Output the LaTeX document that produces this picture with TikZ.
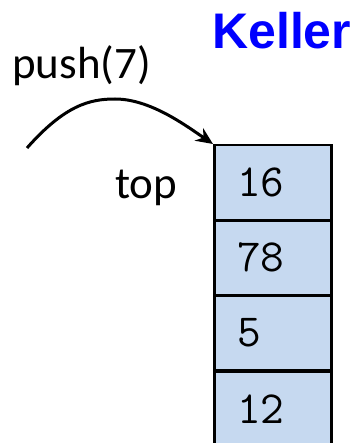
\documentclass[tikz,border=0pt]{standalone}
\usepackage{fontspec}
\setmainfont{Carlito}
\newfontfamily\kellerfont{Liberation Sans}
\usetikzlibrary{arrows.meta}
\definecolor{cellblue}{HTML}{C6D9F0}
\definecolor{titleblue}{HTML}{0000FF}
\tikzset{
  cell/.style={draw=black, line width=2.5pt, fill=cellblue, anchor=north west,
    text width=71pt, inner xsep=23pt, inner ysep=0pt, minimum height=75pt, align=left,
    font=\ttfamily\fontsize{46}{46}\selectfont},
  lbl/.style={inner sep=0pt, anchor=base west, font=\fontsize{45}{45}\selectfont},
  pusharrow/.style={line width=3pt, -{Stealth[length=17pt,width=15pt]}},
}
\begin{document}
\begin{tikzpicture}[x=1pt,y=-1pt]
\useasboundingbox (0,0) rectangle (358,443);
\clip (0,0) rectangle (358,443);
\node[cell] (b1) at (213,144) {16};
\node[cell] (b2) at (213,219) {78};
\node[cell] (b3) at (213,294) {5};
\node[cell] (b4) at (213,370) {12};
\node[inner sep=0pt, anchor=base west, text=titleblue, font=\kellerfont\bfseries\fontsize{50}{50}\selectfont] (title) at (212,49) {Keller};
\node[lbl] (push) at (12,79) {push(7)};
\node[lbl] (top) at (115,199) {top};
\coordinate (start) at (27,148);
\coordinate (peak) at (115,99);
\draw[pusharrow] (start) .. controls (65,105) and (90,99) .. (peak) .. controls (150,99) and (185,125) .. (b1.north west);
\end{tikzpicture}
\end{document}
